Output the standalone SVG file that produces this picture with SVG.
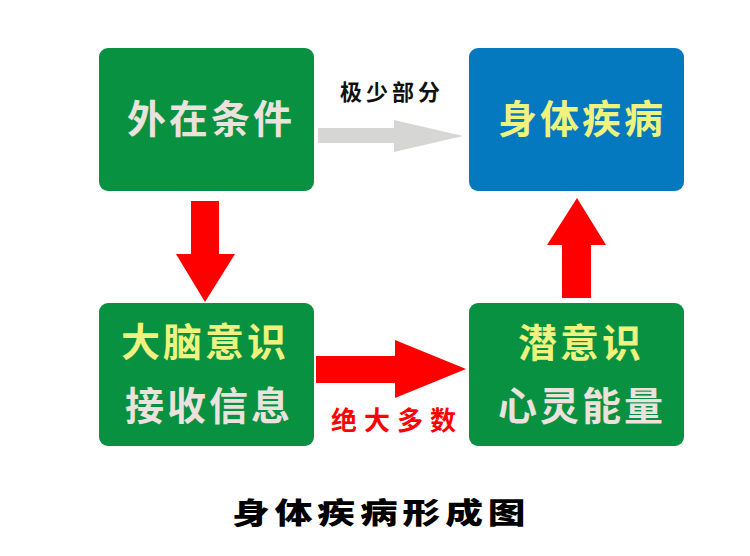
<svg xmlns="http://www.w3.org/2000/svg" width="750" height="556" viewBox="0 0 750 556">
<style>
.box{fill:#079140}
.blue{fill:#0479C0}
.t{font-family:"Noto Sans CJK SC","Noto Sans CJK TC",sans-serif;font-weight:700;font-size:39px;letter-spacing:3px}
.y{fill:#EEF27E}
.g{fill:#EBE1DD}
.red{fill:#FF0000}
</style>
<rect width="750" height="556" fill="#FFFFFF"/>
<g id="connectors">
<polygon fill="#D6D6D4" points="318,128 394,128 394,120 463,136 394,152 394,143 318,143"/>
<polygon class="red" points="191,201 219,201 219,254 235,254 205,302 176,254 191,254"/>
<polygon class="red" points="316,356 395,356 395,340 466,369 395,398 395,383 316,383"/>
<polygon class="red" points="562,298 591,298 591,245 606,245 577,198 547,245 562,245"/>
<text x="340" y="100" font-family="Noto Sans CJK SC,sans-serif" font-weight="700" font-size="22" letter-spacing="4" fill="#111111">极少部分</text>
<text x="331" y="430" font-family="Noto Sans CJK SC,sans-serif" font-weight="700" font-size="26" letter-spacing="7" fill="#FF0000">绝大多数</text>
</g>
<g id="node-external">
<rect class="box" x="99" y="48" width="215" height="143" rx="9"/>
<text class="t g" x="127" y="133">外在条件</text>
</g>
<g id="node-disease">
<rect class="blue" x="469" y="48" width="215" height="143" rx="9"/>
<text class="t y" x="498" y="133">身体疾病</text>
</g>
<g id="node-brain">
<rect class="box" x="99" y="303" width="215" height="143" rx="9"/>
<text class="t y" x="121" y="356">大脑意识</text>
<text class="t g" x="125" y="420">接收信息</text>
</g>
<g id="node-subconscious">
<rect class="box" x="469" y="303" width="215" height="143" rx="9"/>
<text class="t y" x="518" y="357">潜意识</text>
<text class="t g" x="498" y="420">心灵能量</text>
</g>
<g id="title">
<text transform="translate(232,524) scale(1.3,1)" font-family="Noto Sans CJK SC,sans-serif" font-weight="900" font-size="29" letter-spacing="3.8" fill="#000000">身体疾病形成图</text>
</g>
</svg>
